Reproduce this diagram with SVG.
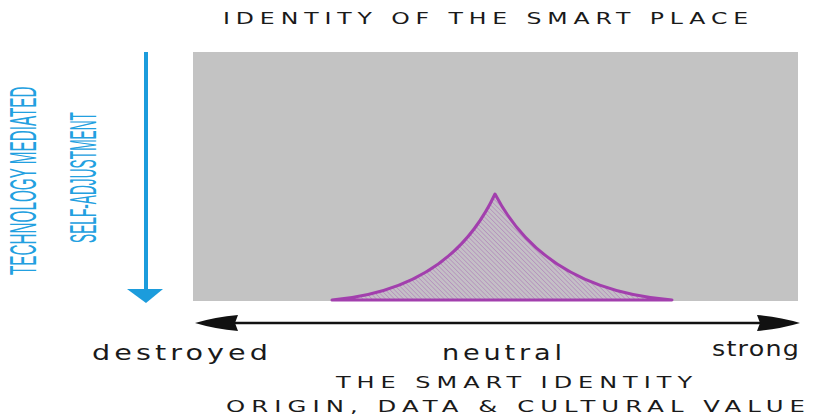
<svg xmlns="http://www.w3.org/2000/svg" width="824" height="415" viewBox="0 0 824 415">
<style>
.title{font-family:"DejaVu Sans","Liberation Sans",sans-serif;font-size:16px;fill:#1a1a1a;letter-spacing:4px}
.word{font-family:"DejaVu Sans","Liberation Sans",sans-serif;font-size:21px;fill:#1a1a1a;letter-spacing:3px}
.vert{font-family:"Liberation Sans","DejaVu Sans",sans-serif;font-size:37px;fill:#22a0e0}
</style>
<defs>
<pattern id="hatch" width="3.2" height="3.2" patternUnits="userSpaceOnUse" patternTransform="rotate(-45)">
<rect width="3.2" height="3.2" fill="#c4c0c6"/>
<line x1="0" y1="0" x2="0" y2="3.2" stroke="#b48cbc" stroke-width="1.4"/>
</pattern>
</defs>
<rect width="824" height="415" fill="#ffffff"/>
<g id="title"><text class="title" x="223" y="24" textLength="531" lengthAdjust="spacingAndGlyphs">IDENTITY OF THE SMART PLACE</text></g>
<g id="field"><rect x="193" y="52" width="605" height="249" fill="#c3c3c3"/></g>
<g id="peak">
<path d="M332,300 Q450,290 495,194 Q545,290 672,300 Z" fill="url(#hatch)" stroke="#a23fad" stroke-width="3" stroke-linejoin="round"/>
</g>
<g id="vertical-labels">
<text class="vert" transform="translate(36,275) rotate(-90) scale(0.4126,1)" x="0" y="0">TECHNOLOGY MEDIATED</text>
<text class="vert" transform="translate(96,243) rotate(-90) scale(0.3705,1)" x="0" y="0">SELF-ADJUSTMENT</text>
</g>
<g id="connectors">
<line x1="146" y1="52" x2="146" y2="292" stroke="#1c9cdc" stroke-width="4"/>
<path d="M127,289 L163,289 L146,303 Z" fill="#1c9cdc"/>
<line x1="215" y1="323" x2="780" y2="323" stroke="#111" stroke-width="2.5"/>
<path d="M195,323 Q215,317 238,315 L235,323 L238,331 Q215,329 195,323 Z" fill="#111"/>
<path d="M800,323 Q780,317 757,315 L760,323 L757,331 Q780,329 800,323 Z" fill="#111"/>
</g>
<g id="scale-labels">
<text class="word" x="92" y="360" textLength="180" lengthAdjust="spacingAndGlyphs">destroyed</text>
<text class="word" x="442" y="360" textLength="124" lengthAdjust="spacingAndGlyphs">neutral</text>
<text class="word" x="712" y="356" textLength="88" lengthAdjust="spacingAndGlyphs" style="letter-spacing:1px">strong</text>
</g>
<g id="axis-title">
<text class="title" x="336" y="388" textLength="362" lengthAdjust="spacingAndGlyphs">THE  SMART  IDENTITY</text>
<text class="title" x="226" y="412" textLength="585" lengthAdjust="spacingAndGlyphs">ORIGIN, DATA &amp; CULTURAL VALUE</text>
</g>
</svg>
